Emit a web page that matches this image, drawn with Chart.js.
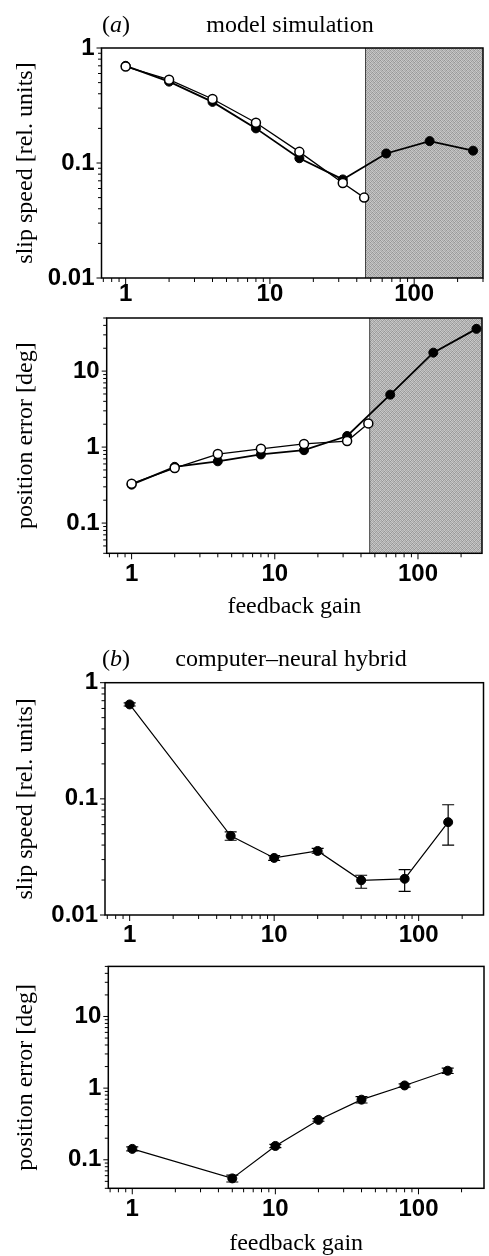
<!DOCTYPE html>
<html>
<head>
<meta charset="utf-8">
<script src="https://cdn.jsdelivr.net/npm/chart.js@4.4.1/dist/chart.umd.min.js"></script>
<style>
body { margin: 0; background: #fff; }
#page { position: relative; width: 489px; height: 1256px; overflow: hidden; background: #fff; }
canvas { position: absolute; left: 0; }
.title { position: absolute; font-family: "Liberation Serif", serif; font-size: 24px; line-height: 24px; white-space: nowrap; color: #000; }
.mid { transform: translateX(-50%); }
</style>
</head>
<body>
<div id="page">
    <canvas id="slipModel" width="489" height="315" style="top:0px"></canvas>
    <canvas id="posModel" width="489" height="340" style="top:295px"></canvas>
    <canvas id="slipHybrid" width="489" height="310" style="top:635px"></canvas>
    <canvas id="posHybrid" width="491" height="313" style="top:945px"></canvas>
    <div class="title" style="left:102px; top:12px;">(<i>a</i>)</div>
    <div class="title mid" style="left:290px; top:12px;">model simulation</div>
    <div class="title" style="left:102px; top:646px;">(<i>b</i>)</div>
    <div class="title mid" style="left:291px; top:646px;">computer–neural hybrid</div>
</div>

<script>
// Waarden.
var modelGain = [1, 2, 4, 8, 16, 32, 64, 128, 256];
var modelSlipFilled = [0.70, 0.51, 0.34, 0.20, 0.11, 0.072, 0.121, 0.155, 0.128];
var modelPosFilled = [0.32, 0.55, 0.65, 0.80, 0.91, 1.40, 4.9, 17.5, 36];

var modelGainOpen = [1, 2, 4, 8, 16, 32, 45];
var modelSlipOpen = [0.69, 0.53, 0.36, 0.224, 0.125, 0.067, 0.050];
var modelPosOpen = [0.33, 0.53, 0.81, 0.95, 1.1, 1.2, 2.05];

var hybridGain = [1, 5, 10, 20, 40, 80, 160];
var hybridSlip = [0.65, 0.048, 0.031, 0.0356, 0.0199, 0.0205, 0.063];
var hybridSlipLow = [0.63, 0.044, 0.0295, 0.034, 0.017, 0.016, 0.040];
var hybridSlipHigh = [0.67, 0.052, 0.0325, 0.0375, 0.022, 0.0246, 0.089];
var hybridPos = [0.142, 0.055, 0.156, 0.36, 0.69, 1.09, 1.75];
var hybridPosLow = [0.133, 0.049, 0.148, 0.345, 0.62, 1.03, 1.6];
var hybridPosHigh = [0.151, 0.061, 0.164, 0.375, 0.76, 1.15, 1.9];

var gainTicks = [1, 10, 100];
var slipTicks = [0.01, 0.1, 1];
var posTicks = [0.1, 1, 10];

var unstableFrom = 46;

Chart.defaults.color = "#000";
Chart.defaults.font.family = "'Liberation Sans', Arial, sans-serif";

function toPoints(xs, ys) {
    var points = [];
    for (var i = 0; i < xs.length; i++) {
        points.push({ x: xs[i], y: ys[i] });
    }
    return points;
}

function sameValue(a, b) {
    return Math.abs(Math.log10(a) - Math.log10(b)) < 1e-6;
}

function labelFor(list) {
    return function (value) {
        for (var i = 0; i < list.length; i++) {
            if (sameValue(value, list[i])) {
                return String(list[i]);
            }
        }
        return "";
    };
}

function wholeMantissa(v) {
    var m = v / Math.pow(10, Math.floor(Math.log10(v) + 1e-9));
    return Math.abs(m - Math.round(m)) < 1e-6;
}

function isDecade(v) {
    var l = Math.log10(v);
    return Math.abs(l - Math.round(l)) < 1e-6;
}

// Grijs gespikkeld vlak zoals in de gedrukte figuur (vast patroon).
function makeShade(ctx) {
    var tile = document.createElement("canvas");
    tile.width = 4;
    tile.height = 4;
    var t = tile.getContext("2d");
    var greys = [150, 200, 170, 190, 195, 160, 205, 155, 175, 185, 150, 200, 200, 165, 190, 170];
    for (var i = 0; i < 16; i++) {
        t.fillStyle = "rgb(" + greys[i] + "," + greys[i] + "," + greys[i] + ")";
        t.fillRect(i % 4, Math.floor(i / 4), 1, 1);
    }
    return ctx.createPattern(tile, "repeat");
}

// Kader, grijs gebied, tickstreepjes en foutbalken.
function framePlugin(shadeFrom) {
    return {
        id: "frame",
        beforeDatasetsDraw: function (chart) {
            var a = chart.chartArea;
            var ctx = chart.ctx;
            var xs = chart.scales.x;
            var ys = chart.scales.y;
            ctx.save();
            if (shadeFrom) {
                var x0 = xs.getPixelForValue(shadeFrom);
                ctx.fillStyle = makeShade(ctx);
                ctx.fillRect(x0, a.top, a.right - x0, a.bottom - a.top);
                ctx.strokeStyle = "#444";
                ctx.lineWidth = 1;
                ctx.beginPath();
                ctx.moveTo(x0, a.top);
                ctx.lineTo(x0, a.bottom);
                ctx.stroke();
            }
            ctx.strokeStyle = "#000";
            ctx.lineWidth = 1.5;
            ctx.strokeRect(a.left, a.top, a.right - a.left, a.bottom - a.top);

            ctx.lineWidth = 1;
            ctx.beginPath();
            xs.ticks.forEach(function (t) {
                if (t.value < xs.min || t.value > xs.max || !wholeMantissa(t.value)) return;
                var px = xs.getPixelForValue(t.value);
                var len = isDecade(t.value) ? 6 : 4;
                ctx.moveTo(px, a.bottom);
                ctx.lineTo(px, a.bottom + len);
            });
            ys.ticks.forEach(function (t) {
                if (t.value < ys.min || t.value > ys.max || !wholeMantissa(t.value)) return;
                var py = ys.getPixelForValue(t.value);
                var len = isDecade(t.value) ? 5 : 3.5;
                ctx.moveTo(a.left - len, py);
                ctx.lineTo(a.left, py);
            });
            ctx.stroke();
            ctx.restore();
        },
        afterDatasetsDraw: function (chart) {
            var ctx = chart.ctx;
            var ys = chart.scales.y;
            ctx.save();
            ctx.strokeStyle = "#000";
            ctx.lineWidth = 1.2;
            chart.data.datasets.forEach(function (ds, i) {
                if (!ds.errLow) return;
                var meta = chart.getDatasetMeta(i);
                meta.data.forEach(function (pt, j) {
                    var lo = ys.getPixelForValue(ds.errLow[j]);
                    var hi = ys.getPixelForValue(ds.errHigh[j]);
                    ctx.beginPath();
                    ctx.moveTo(pt.x, lo);
                    ctx.lineTo(pt.x, hi);
                    ctx.moveTo(pt.x - 6, lo);
                    ctx.lineTo(pt.x + 6, lo);
                    ctx.moveTo(pt.x - 6, hi);
                    ctx.lineTo(pt.x + 6, hi);
                    ctx.stroke();
                });
            });
            ctx.restore();
        }
    };
}

function filledSet(xs, ys, width) {
    return {
        data: toPoints(xs, ys),
        showLine: true,
        borderColor: "#000",
        borderWidth: width,
        backgroundColor: "#000",
        pointBackgroundColor: "#000",
        pointBorderColor: "#000",
        pointBorderWidth: 1,
        pointRadius: 4.5,
        tension: 0
    };
}

function openSet(xs, ys) {
    return {
        data: toPoints(xs, ys),
        showLine: true,
        borderColor: "#000",
        borderWidth: 1.3,
        backgroundColor: "#fff",
        pointBackgroundColor: "#fff",
        pointBorderColor: "#000",
        pointBorderWidth: 1.5,
        pointRadius: 4.5,
        tension: 0
    };
}

// box: plotvlak binnen het canvas; de x-as krijgt de rest van de hoogte
function createPanel(id, box, xRange, yRange, yTicks, yTitle, xTitle, datasets, shadeFrom) {
    var canvas = document.getElementById(id);
    var xHeight = canvas.height - box.bottom;
    return new Chart(canvas, {
        type: "scatter",
        data: { datasets: datasets },
        options: {
            responsive: false,
            animation: false,
            events: [],
            layout: {
                padding: { left: 0, top: box.top, right: canvas.width - box.right, bottom: 0 }
            },
            plugins: {
                legend: { display: false },
                tooltip: { enabled: false }
            },
            scales: {
                x: {
                    type: "logarithmic",
                    min: xRange[0],
                    max: xRange[1],
                    grid: { display: false, drawTicks: false },
                    border: { display: false },
                    ticks: {
                        autoSkip: false,
                        maxRotation: 0,
                        padding: box.xLabelPad,
                        font: { size: 24, weight: "bold" },
                        callback: labelFor(gainTicks)
                    },
                    title: {
                        display: xTitle != null,
                        text: xTitle,
                        padding: { top: 0, bottom: box.xTitlePad || 0 },
                        font: { family: "'Liberation Serif', serif", size: 24 }
                    },
                    afterFit: function (scale) {
                        scale.height = xHeight;
                    }
                },
                y: {
                    type: "logarithmic",
                    min: yRange[0],
                    max: yRange[1],
                    grid: { display: false, drawTicks: false },
                    border: { display: false },
                    ticks: {
                        autoSkip: false,
                        padding: 7,
                        font: { size: 24, weight: "bold" },
                        callback: labelFor(yTicks)
                    },
                    title: {
                        display: true,
                        text: yTitle,
                        padding: { top: 11, bottom: 0 },
                        font: { family: "'Liberation Serif', serif", size: 24 }
                    },
                    afterFit: function (scale) {
                        scale.width = box.left;
                    }
                }
            }
        },
        plugins: [framePlugin(shadeFrom)]
    });
}

document.addEventListener("DOMContentLoaded", function () {
    createPanel("slipModel",
        { left: 101.5, top: 48, right: 487.5, bottom: 278, xLabelPad: 2 },
        [0.68, 300], [0.01, 1], slipTicks,
        "slip speed [rel. units]", null,
        [openSet(modelGainOpen, modelSlipOpen), filledSet(modelGain, modelSlipFilled, 1.8)],
        unstableFrom);

    createPanel("posModel",
        { left: 106.7, top: 23, right: 488, bottom: 258.3, xLabelPad: 7, xTitlePad: 13.9 },
        [0.67, 280], [0.04, 50], posTicks,
        "position error [deg]", "feedback gain",
        [openSet(modelGainOpen, modelPosOpen), filledSet(modelGain, modelPosFilled, 1.8)],
        unstableFrom);

    var slipSet = filledSet(hybridGain, hybridSlip, 1.2);
    slipSet.errLow = hybridSlipLow;
    slipSet.errHigh = hybridSlipHigh;
    createPanel("slipHybrid",
        { left: 105, top: 47.7, right: 488.3, bottom: 280, xLabelPad: 5.5 },
        [0.675, 281], [0.01, 1], slipTicks,
        "slip speed [rel. units]", null,
        [slipSet], null);

    var posSet = filledSet(hybridGain, hybridPos, 1.2);
    posSet.errLow = hybridPosLow;
    posSet.errHigh = hybridPosHigh;
    createPanel("posHybrid",
        { left: 108.3, top: 16, right: 490, bottom: 243.3, xLabelPad: 7 },
        [0.68, 287], [0.04, 50], posTicks,
        "position error [deg]", "feedback gain",
        [posSet], null);
});
</script>
</body>
</html>
